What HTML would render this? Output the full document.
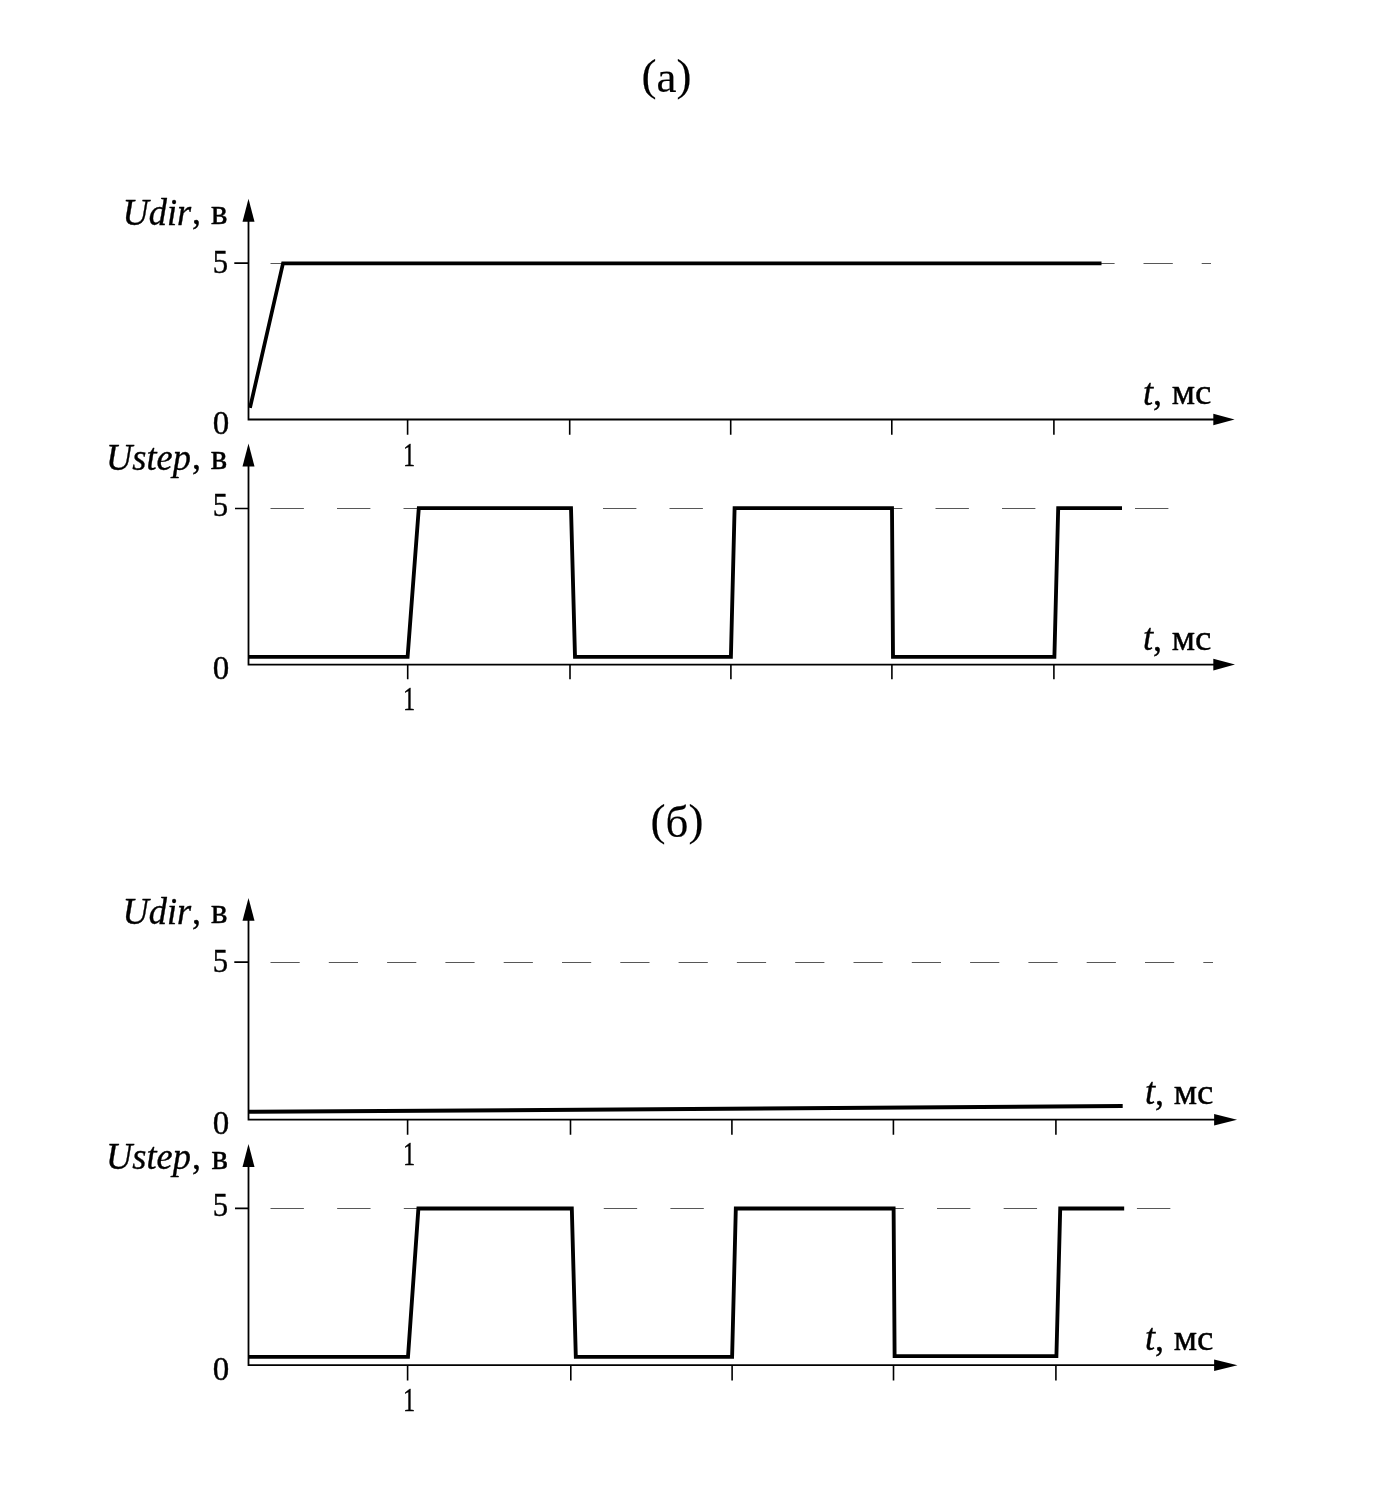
<!DOCTYPE html>
<html lang="ru"><head><meta charset="utf-8"><title>Udir / Ustep</title>
<style>html,body{margin:0;padding:0;background:#fff}body{width:1378px;height:1503px;overflow:hidden}svg{display:block;will-change:transform}text{font-family:"Liberation Serif",serif;fill:#000;stroke:#000;stroke-width:0.35;stroke-linejoin:round}.i{font-style:italic}.c{stroke-width:0.45}.n{stroke-width:0.4}.t{stroke-width:0.15}</style></head><body>
<svg width="1378" height="1503" viewBox="0 0 1378 1503">
<rect width="1378" height="1503" fill="#ffffff"/>
<text class="t" x="666.5" y="90" font-size="45" text-anchor="middle">(<tspan dy="1.7">а</tspan><tspan dy="-1.7">)</tspan></text>
<text class="t" x="677" y="834.9" font-size="45" text-anchor="middle">(<tspan dy="2.4">б</tspan><tspan dy="-2.4">)</tspan></text>
<g>
<path d="M270.5 263.5H299.8M328.7 263.5H358M386.9 263.5H416.2M445.1 263.5H474.4M503.3 263.5H532.6M561.5 263.5H590.8M619.7 263.5H649M677.9 263.5H707.2M736.1 263.5H765.4M794.3 263.5H823.6M852.5 263.5H881.8M910.7 263.5H940M968.9 263.5H998.2M1027.1 263.5H1056.4M1085.3 263.5H1114.6M1143.5 263.5H1172.8M1201.7 263.5H1211" stroke="#444" stroke-width="0.9" fill="none"/>
<path d="M248.5 220.7V419.5H1214.3" fill="none" stroke="#000" stroke-width="1.8"/>
<path d="M248.5 198.8L254.5 221.7H242.5Z"/>
<path d="M1234.6 419.5L1213.3 413.7V425.3Z"/>
<path d="M407.6 419.5V434.7M569.7 419.5V434.7M730.7 419.5V434.7M891.8 419.5V434.7M1053.9 419.5V434.7M234.3 263.1H248.5" stroke="#000" stroke-width="1.6" fill="none"/>
<path d="M250 407.9L283 263.3L1101.5 263.3" stroke="#000" stroke-width="3.7" fill="none" stroke-linejoin="miter" stroke-miterlimit="10"/>
<text class="i" transform="translate(122.5 224.7) scale(1.01 1.05)" font-size="36">Udir</text>
<text x="192" y="224.2" font-size="36">,<tspan x="202.2" y="224.2" class="c" font-size="35"> в</tspan></text>
<text class="n" transform="translate(220.5 272.9) scale(0.93 1.03)" font-size="33" text-anchor="middle">5</text>
<text class="n" transform="translate(221 433.9) scale(1 1.03)" font-size="33" text-anchor="middle">0</text>
<text class="n" transform="translate(409 465.9) scale(0.74 1.03)" font-size="33" stroke-width="0.65" text-anchor="middle">1</text>
<text class="i" transform="translate(1143 404.6) scale(1.01 1.03)" font-size="36">t</text>
<text x="1153" y="405.2" font-size="36">,<tspan x="1162.6" y="404.4" class="c" font-size="36.8"> мс</tspan></text>
</g>
<g>
<path d="M270.5 508.5H303.9M337 508.5H370.4M403.5 508.5H436.9M470 508.5H503.4M536.5 508.5H569.9M603 508.5H636.4M669.5 508.5H702.9M736 508.5H769.4M802.5 508.5H835.9M869 508.5H902.4M935.5 508.5H968.9M1002 508.5H1035.4M1068.5 508.5H1101.9M1135 508.5H1168.4" stroke="#444" stroke-width="0.9" fill="none"/>
<path d="M248.5 465.6V664.6H1214.3" fill="none" stroke="#000" stroke-width="1.8"/>
<path d="M248.5 443.6L254.5 466.6H242.5Z"/>
<path d="M1235 664.6L1213.3 658.8V670.4Z"/>
<path d="M407.7 664.6V679.3M570 664.6V679.3M730.9 664.6V679.3M891.9 664.6V679.3M1053.9 664.6V679.3M235 508.5H248.5" stroke="#000" stroke-width="1.6" fill="none"/>
<path d="M248.5 656.9L407.6 656.9L418.8 508.1L571 508.1L575 656.9L730.9 656.9L734.6 508.1L892 508.1L893 656.9L1054.4 656.9L1058.2 508.1L1122 508.1" stroke="#000" stroke-width="3.85" fill="none" stroke-linejoin="miter" stroke-miterlimit="10"/>
<text class="i" transform="translate(106 469.7) scale(1.01 1.05)" font-size="36">Ustep</text>
<text x="192" y="469.2" font-size="36">,<tspan x="202" y="469.2" class="c" font-size="35"> в</tspan></text>
<text class="n" transform="translate(220.5 515.7) scale(0.93 1.03)" font-size="33" text-anchor="middle">5</text>
<text class="n" transform="translate(221 678.7) scale(1 1.03)" font-size="33" text-anchor="middle">0</text>
<text class="n" transform="translate(409 709.6) scale(0.74 1.03)" font-size="33" stroke-width="0.65" text-anchor="middle">1</text>
<text class="i" transform="translate(1143 650.3) scale(1.01 1.03)" font-size="36">t</text>
<text x="1153" y="651" font-size="36">,<tspan x="1162.6" y="650.2" class="c" font-size="36.8"> мс</tspan></text>
</g>
<g>
<path d="M270.5 962.5H299.7M328.8 962.5H358M387.1 962.5H416.3M445.4 962.5H474.6M503.7 962.5H532.9M562 962.5H591.2M620.3 962.5H649.5M678.6 962.5H707.8M736.9 962.5H766.1M795.2 962.5H824.4M853.5 962.5H882.7M911.8 962.5H941M970.1 962.5H999.3M1028.4 962.5H1057.6M1086.7 962.5H1115.9M1145 962.5H1174.2M1203.3 962.5H1213" stroke="#444" stroke-width="0.9" fill="none"/>
<path d="M248.5 919.8V1119.7H1215.11" fill="none" stroke="#000" stroke-width="1.8"/>
<path d="M248.5 897.9L254.5 920.8H242.5Z"/>
<path d="M1237.07 1119.7L1214.11 1113.9V1125.5Z"/>
<path d="M407.6 1119.7V1134.7M570.5 1119.7V1134.7M731.91 1119.7V1134.7M893.41 1119.7V1134.7M1055.91 1119.7V1134.7M234.3 962.1H248.5" stroke="#000" stroke-width="1.6" fill="none"/>
<path d="M248.5 1111.85L1122.7 1106.1" stroke="#000" stroke-width="4.0" fill="none" stroke-linejoin="miter" stroke-miterlimit="10"/>
<text class="i" transform="translate(122.5 924.2) scale(1.01 1.05)" font-size="36">Udir</text>
<text x="192" y="923.7" font-size="36">,<tspan x="202.2" y="923.3" class="c" font-size="35"> в</tspan></text>
<text class="n" transform="translate(220.5 972) scale(0.93 1.03)" font-size="33" text-anchor="middle">5</text>
<text class="n" transform="translate(221 1134.4) scale(1 1.03)" font-size="33" text-anchor="middle">0</text>
<text class="n" transform="translate(409 1165.4) scale(0.74 1.03)" font-size="33" stroke-width="0.65" text-anchor="middle">1</text>
<text class="i" transform="translate(1145 1104.1) scale(1.01 1.03)" font-size="36">t</text>
<text x="1155" y="1104.7" font-size="36">,<tspan x="1164.6" y="1103.9" class="c" font-size="36.8"> мс</tspan></text>
</g>
<g>
<path d="M270.5 1208.5H303.9M337.15 1208.5H370.55M403.8 1208.5H437.2M470.45 1208.5H503.85M537.1 1208.5H570.5M603.75 1208.5H637.15M670.4 1208.5H703.8M737.05 1208.5H770.45M803.7 1208.5H837.1M870.35 1208.5H903.75M937 1208.5H970.4M1003.65 1208.5H1037.05M1070.3 1208.5H1103.7M1136.95 1208.5H1170.35" stroke="#444" stroke-width="0.9" fill="none"/>
<path d="M248.5 1166.1V1365.2H1215.11" fill="none" stroke="#000" stroke-width="1.8"/>
<path d="M248.5 1143.9L254.5 1167.1H242.5Z"/>
<path d="M1237.47 1365.2L1214.11 1359.4V1371Z"/>
<path d="M407.6 1365.2V1380.4M570.8 1365.2V1380.4M732.11 1365.2V1380.4M893.51 1365.2V1380.4M1055.91 1365.2V1380.4M235 1208.4H248.5" stroke="#000" stroke-width="1.6" fill="none"/>
<path d="M248.5 1356.9L408 1356.9L418.4 1208.5L571.81 1208.5L575.82 1356.9L732.11 1356.9L735.82 1208.5L893.61 1208.5L894.61 1356.1L1056.41 1356.1L1060.22 1208.5L1124.18 1208.5" stroke="#000" stroke-width="3.85" fill="none" stroke-linejoin="miter" stroke-miterlimit="10"/>
<text class="i" transform="translate(106 1169.2) scale(1.01 1.05)" font-size="36">Ustep</text>
<text x="192" y="1168.7" font-size="36">,<tspan x="202.8" y="1169" class="c" font-size="35"> в</tspan></text>
<text class="n" transform="translate(220.5 1215.9) scale(0.93 1.03)" font-size="33" text-anchor="middle">5</text>
<text class="n" transform="translate(221 1379.6) scale(1 1.03)" font-size="33" text-anchor="middle">0</text>
<text class="n" transform="translate(409 1410.8) scale(0.74 1.03)" font-size="33" stroke-width="0.65" text-anchor="middle">1</text>
<text class="i" transform="translate(1145 1349.8) scale(1.01 1.03)" font-size="36">t</text>
<text x="1155" y="1350.5" font-size="36">,<tspan x="1164.6" y="1349.7" class="c" font-size="36.8"> мс</tspan></text>
</g>
</svg></body></html>
